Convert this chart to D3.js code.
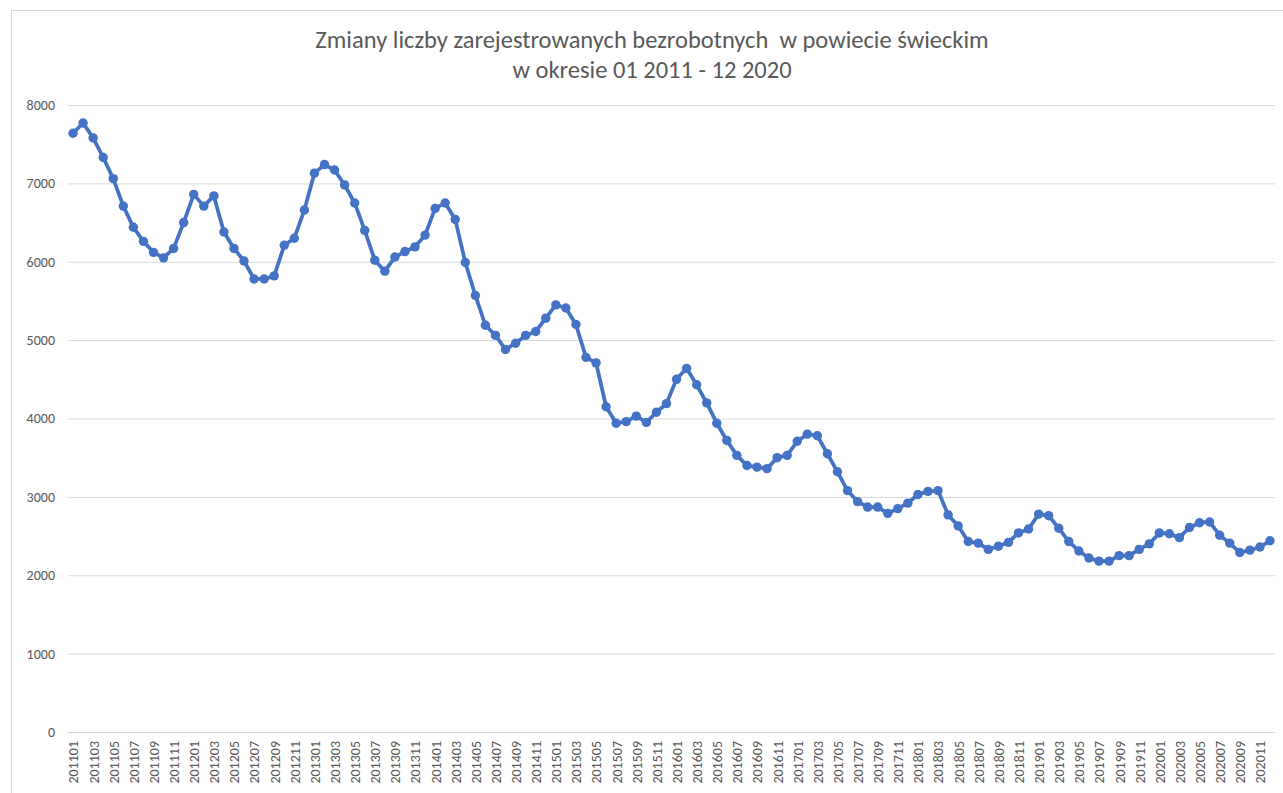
<!DOCTYPE html>
<html>
<head>
<meta charset="utf-8">
<script src="https://cdn.jsdelivr.net/npm/d3@7"></script>
<style>
  html, body { margin: 0; padding: 0; background: #fff; }
  svg { display: block; }
  text { font-family: Carlito, Lato, "Open Sans", sans-serif; fill: #595959; }
</style>
</head>
<body>
<svg id="chart" width="1283" height="793"></svg>
<script>
// Monthly periods (YYYYMM), 01 2011 – 12 2020
const months = [
  "201101","201102","201103","201104","201105","201106","201107","201108","201109","201110","201111","201112",
  "201201","201202","201203","201204","201205","201206","201207","201208","201209","201210","201211","201212",
  "201301","201302","201303","201304","201305","201306","201307","201308","201309","201310","201311","201312",
  "201401","201402","201403","201404","201405","201406","201407","201408","201409","201410","201411","201412",
  "201501","201502","201503","201504","201505","201506","201507","201508","201509","201510","201511","201512",
  "201601","201602","201603","201604","201605","201606","201607","201608","201609","201610","201611","201612",
  "201701","201702","201703","201704","201705","201706","201707","201708","201709","201710","201711","201712",
  "201801","201802","201803","201804","201805","201806","201807","201808","201809","201810","201811","201812",
  "201901","201902","201903","201904","201905","201906","201907","201908","201909","201910","201911","201912",
  "202001","202002","202003","202004","202005","202006","202007","202008","202009","202010","202011","202012"
];

// Registered unemployed persons at month end
const unemployed = [
  7640, 7770, 7580, 7330, 7060, 6710, 6440, 6260, 6120, 6050, 6170, 6500,
  6860, 6710, 6840, 6380, 6170, 6010, 5780, 5780, 5820, 6210, 6300, 6660,
  7130, 7240, 7170, 6980, 6750, 6400, 6020, 5880, 6060, 6130, 6190, 6340,
  6680, 6750, 6540, 5990, 5570, 5190, 5060, 4880, 4960, 5060, 5110, 5280,
  5450, 5410, 5200, 4780, 4710, 4150, 3940, 3960, 4030, 3950, 4080, 4190,
  4500, 4640, 4430, 4200, 3940, 3720, 3530, 3400, 3380, 3360, 3500, 3530,
  3710, 3800, 3780, 3550, 3320, 3080, 2940, 2870, 2870, 2790, 2850, 2920,
  3030, 3070, 3080, 2770, 2630, 2430, 2410, 2330, 2370, 2420, 2540, 2590,
  2780, 2760, 2600, 2430, 2310, 2220, 2180, 2180, 2250, 2250, 2330, 2400,
  2540, 2530, 2480, 2610, 2670, 2680, 2510, 2410, 2290, 2320, 2360, 2440
];

const yTicks = [0, 1000, 2000, 3000, 4000, 5000, 6000, 7000, 8000];

const titleLines = [
  "Zmiany liczby zarejestrowanych bezrobotnych  w powiecie świeckim",
  "w okresie 01 2011 - 12 2020"
];

const svg = d3.select("#chart");
const plot = { left: 68, right: 1275, top: 105, bottom: 732 };

// chart area frame
svg.append("rect")
  .attr("x", 11.5).attr("y", 10.5)
  .attr("width", 1400).attr("height", 900)
  .attr("fill", "#fff").attr("stroke", "#d9d9d9").attr("stroke-width", 1);

const x = d3.scalePoint()
  .domain(months)
  .range([plot.left, plot.right])
  .padding(0.5);

const y = d3.scaleLinear()
  .domain([0, 8000])
  .range([plot.bottom, plot.top]);

// horizontal gridlines + value labels
const yAxis = d3.axisLeft(y)
  .tickValues(yTicks)
  .tickSize(-(plot.right - plot.left))
  .tickPadding(13)
  .tickFormat(d3.format("d"));

svg.append("g")
  .attr("transform", `translate(${plot.left},0)`)
  .call(yAxis)
  .call(g => g.select(".domain").remove())
  .call(g => g.selectAll(".tick line").attr("stroke", "#d9d9d9").attr("stroke-width", 1))
  .call(g => g.selectAll(".tick text")
    .attr("fill", "#595959")
    .style("font-size", "14px"));

// category labels, every second month, rotated
const xAxis = d3.axisBottom(x)
  .tickValues(months.filter((m, i) => i % 2 === 0))
  .tickSize(0)
  .tickPadding(0);

svg.append("g")
  .attr("transform", `translate(0,${plot.bottom})`)
  .call(xAxis)
  .call(g => g.select(".domain").remove())
  .call(g => g.selectAll(".tick text")
    .attr("fill", "#595959")
    .style("font-size", "14px")
    .attr("text-anchor", "end")
    .attr("dy", "0.35em")
    .attr("transform", "translate(0,9) rotate(-90)")
    .attr("x", 0).attr("y", 0));

// series line
const line = d3.line()
  .x((d, i) => x(months[i]))
  .y(d => y(d));

svg.append("path")
  .datum(unemployed)
  .attr("fill", "none")
  .attr("stroke", "#4472c4")
  .attr("stroke-width", 3.75)
  .attr("stroke-linejoin", "round")
  .attr("stroke-linecap", "round")
  .attr("d", line);

svg.append("g")
  .selectAll("circle")
  .data(unemployed)
  .join("circle")
  .attr("cx", (d, i) => x(months[i]))
  .attr("cy", d => y(d))
  .attr("r", 4.7)
  .attr("fill", "#4472c4");

// title
svg.append("g")
  .selectAll("text")
  .data(titleLines)
  .join("text")
  .attr("x", 652)
  .attr("y", (d, i) => 48 + i * 30)
  .attr("text-anchor", "middle")
  .style("font-size", "24.5px")
  .style("white-space", "pre")
  .attr("fill", "#595959")
  .text(d => d);
</script>
</body>
</html>
